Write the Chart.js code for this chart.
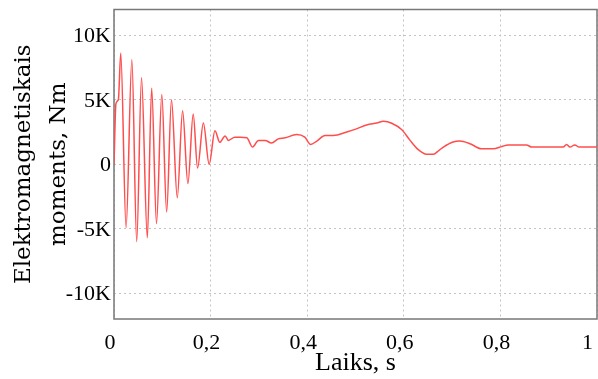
<!DOCTYPE html>
<html>
<head>
<meta charset="utf-8">
<script src="https://cdn.jsdelivr.net/npm/chart.js@4"></script>
<style>
    html, body { margin: 0; padding: 0; background: #fff; }
    #wrap { position: relative; width: 598px; height: 379px; }
</style>
</head>
<body>
<div id="wrap"><canvas id="torqueChart"></canvas></div>
<script>
// laiks, s
const timeVals = [
    0, 0.004, 0.009, 0.014, 0.025, 0.037, 0.047, 0.057, 0.069, 0.078,
    0.088, 0.099, 0.109, 0.119, 0.131, 0.142, 0.153, 0.164, 0.173, 0.185,
    0.197, 0.209, 0.219, 0.230, 0.237, 0.250, 0.261, 0.275, 0.287, 0.299,
    0.313, 0.326, 0.340, 0.354, 0.378, 0.395, 0.407, 0.420, 0.437, 0.454,
    0.482, 0.502, 0.523, 0.544, 0.558, 0.575, 0.596, 0.613, 0.630, 0.647,
    0.661, 0.673, 0.682, 0.702, 0.716, 0.737, 0.761, 0.785, 0.803, 0.816,
    0.854, 0.865, 0.930, 0.937, 0.944, 0.954, 0.963, 1.0
];

// elektromagnētiskais moments, Nm
const torqueVals = [
    0, 4700, 5000, 8600, -4900, 8100, -6000, 6700, -5700, 5900,
    -4600, 5400, -3700, 5000, -2600, 4150, -1500, 3900, -300, 3200,
    0, 2600, 1700, 2200, 1850, 2100, 2100, 2050, 1330, 1850,
    1850, 1640, 1970, 2050, 2300, 2100, 1540, 1800, 2230, 2230,
    2500, 2740, 3050, 3200, 3330, 3180, 2670, 1850, 1130, 770,
    770, 1080, 1330, 1720, 1800, 1590, 1200, 1200, 1380, 1500,
    1500, 1330, 1330, 1540, 1330, 1500, 1330, 1330
];

const xTicks = [0, 0.2, 0.4, 0.6, 0.8, 1];
const yTicks = [-10000, -5000, 0, 5000, 10000];

// ramis ap grafika laukumu
const frame = {
    id: "frame",
    beforeDatasetsDraw(chart) {
        const { ctx, chartArea: a } = chart;
        ctx.save();
        ctx.strokeStyle = "#777";
        ctx.lineWidth = 1.5;
        ctx.strokeRect(a.left, a.top, a.right - a.left, a.bottom - a.top);
        ctx.restore();
    }
};

const serif = "'Liberation Serif', 'Times New Roman', serif";

new Chart(document.getElementById("torqueChart"), {
    type: "line",
    data: {
        datasets: [
            {
                label: "Elektromagnetiskais moments",
                data: timeVals.map((t, i) => ({ x: t, y: torqueVals[i] })),
                borderColor: "#ff4d4d",
                borderWidth: 1.5,
                pointRadius: 0,
                fill: false,
                cubicInterpolationMode: "monotone"
            }
        ]
    },
    options: {
        responsive: true,
        maintainAspectRatio: false,
        animation: false,
        devicePixelRatio: 1,
        layout: { padding: { top: 9.5, right: 1, left: 0, bottom: 0 } },
        plugins: {
            legend: { display: false },
            tooltip: { enabled: false }
        },
        scales: {
            x: {
                type: "linear",
                min: 0,
                max: 1,
                afterBuildTicks: s => { s.ticks = xTicks.map(v => ({ value: v })); },
                afterFit: s => { s.height = 60; s.paddingLeft = 0; s.paddingRight = 0; },
                grid: { color: "#c4c4c4", drawTicks: false },
                border: { display: false, dash: [2, 3] },
                ticks: {
                    color: "#000",
                    padding: 13,
                    labelOffset: -4,
                    maxRotation: 0,
                    autoSkip: false,
                    font: { family: serif, size: 22, lineHeight: 1 },
                    callback: v => v === 1 ? "1\u2007" : String(v).replace(".", ",")
                },
                title: {
                    display: true,
                    text: "Laiks, s",
                    color: "#000",
                    font: { family: serif, size: 26, lineHeight: 1 },
                    padding: { top: 0, bottom: 3 }
                }
            },
            y: {
                min: -12000,
                max: 12000,
                afterBuildTicks: s => { s.ticks = yTicks.map(v => ({ value: v })); },
                afterFit: s => { s.width = 114; s.paddingTop = 0; s.paddingBottom = 0; },
                grid: { color: "#c4c4c4", drawTicks: false },
                border: { display: false, dash: [2, 3] },
                ticks: {
                    color: "#000",
                    padding: 3,
                    labelOffset: 1,
                    font: { family: serif, size: 22, lineHeight: 1 },
                    callback: v => v === 0 ? "0" : (v / 1000) + "K"
                },
                title: {
                    display: true,
                    text: ["Elektromagnetiskais", "moments, Nm"],
                    color: "#000",
                    font: { family: "'DejaVu Serif', serif", size: 23, lineHeight: 1.52 },
                    padding: { top: 6.5, bottom: 0 }
                }
            }
        }
    },
    plugins: [frame]
});
</script>
</body>
</html>
